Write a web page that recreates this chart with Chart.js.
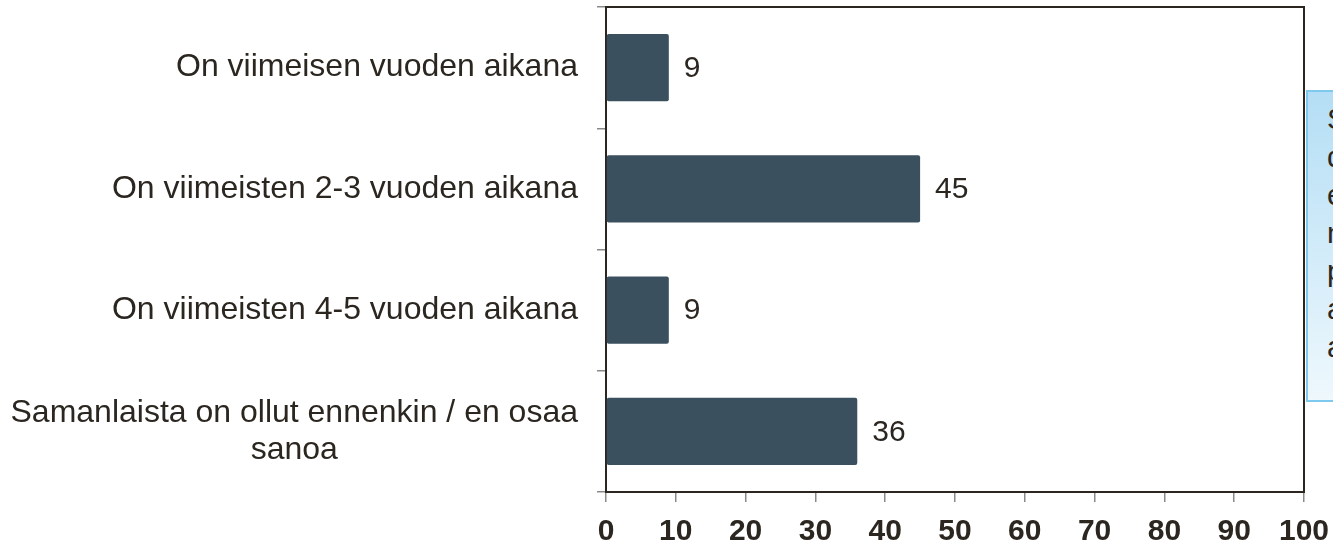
<!DOCTYPE html>
<html>
<head>
<meta charset="utf-8">
<script src="https://cdn.jsdelivr.net/npm/chart.js@4/dist/chart.umd.min.js"></script>
<style>
  html, body { margin: 0; padding: 0; background: #fff; overflow: hidden; }
  #wrap { position: relative; width: 1333px; height: 544px; }
  #note {
    position: absolute; left: 1306px; top: 90px; width: 200px;
    border: 2px solid #7fc9ee;
    background: linear-gradient(#b4def5, #eef8fd);
    font-family: 'Liberation Sans', Arial, sans-serif; font-size: 30px; color: #2b2620;
    line-height: 38px; padding: 8px 0 0 19px; box-sizing: border-box; height: 312px;
  }
</style>
</head>
<body>
<div id="wrap">
  <canvas id="c" width="1333" height="544"></canvas>
  <div id="note">S<br>d<br>e<br>n<br>p<br>a<br>a</div>
</div>
<script>
const categories = [
  ["On viimeisen vuoden aikana"],
  ["On viimeisten 2-3 vuoden aikana"],
  ["On viimeisten 4-5 vuoden aikana"],
  ["Samanlaista on ollut ennenkin / en osaa", "sanoa"]
];
const values = [9, 45, 9, 36];
const xTicks = [0, 10, 20, 30, 40, 50, 60, 70, 80, 90, 100];

const TEXT = '#2b2620';
const FONT = "'Liberation Sans', Arial, sans-serif";

const labelsPlugin = {
  id: 'labels',
  afterDraw(chart) {
    const ctx = chart.ctx;
    const ys = chart.scales.y;
    const area = chart.chartArea;
    ctx.save();
    // frame top/right
    ctx.strokeStyle = TEXT;
    ctx.lineWidth = 2;
    ctx.beginPath();
    ctx.moveTo(area.left - 1, area.top);
    ctx.lineTo(area.right, area.top);
    ctx.lineTo(area.right, area.bottom + 1);
    ctx.stroke();
    // category labels
    ctx.fillStyle = TEXT;
    ctx.font = '32px ' + FONT;
    ctx.textBaseline = 'middle';
    ctx.textAlign = 'center';
    const rightX = 578, lh = 37;
    categories.forEach((lines, i) => {
      const cy = ys.getPixelForValue(i);
      const maxW = Math.max(...lines.map(l => ctx.measureText(l).width));
      const cx = rightX - maxW / 2;
      const y0 = cy - (lines.length - 1) * lh / 2;
      lines.forEach((l, j) => ctx.fillText(l, cx, y0 + j * lh));
    });
    // value labels
    ctx.font = '30px ' + FONT;
    ctx.textAlign = 'left';
    const meta = chart.getDatasetMeta(0);
    meta.data.forEach((bar, i) => {
      ctx.fillText(String(values[i]), bar.x + 15, bar.y + 1);
    });
    ctx.restore();
  }
};

new Chart(document.getElementById('c'), {
  type: 'bar',
  data: {
    labels: categories.map(c => c.join(' ')),
    datasets: [{
      data: values,
      backgroundColor: '#3b505f',
      borderRadius: 2,
      borderSkipped: false,
      categoryPercentage: 1,
      barPercentage: 0.553
    }]
  },
  options: {
    indexAxis: 'y',
    responsive: false,
    animation: false,
    layout: { padding: { top: 7, right: 29, left: 0, bottom: 0 } },
    plugins: { legend: { display: false }, tooltip: { enabled: false } },
    scales: {
      x: {
        min: 0, max: 100,
        afterBuildTicks: s => { s.ticks = xTicks.map(v => ({ value: v })); },
        ticks: { font: { size: 30, weight: 'bold', family: FONT }, color: TEXT, padding: 12, maxRotation: 0, autoSkip: false },
        grid: { drawOnChartArea: false, tickLength: 10, color: '#8a8a8a', lineWidth: 1.5 },
        border: { color: TEXT, width: 2 },
        afterFit: s => { s.height = 52; s.paddingRight = 0; s.paddingLeft = 0; }
      },
      y: {
        ticks: { display: false },
        grid: { drawOnChartArea: false, tickLength: 9, color: '#8a8a8a', lineWidth: 1.5, offset: true },
        border: { color: TEXT, width: 2 },
        afterFit: s => { s.width = 606; }
      }
    }
  },
  plugins: [labelsPlugin]
});
</script>
</body>
</html>
